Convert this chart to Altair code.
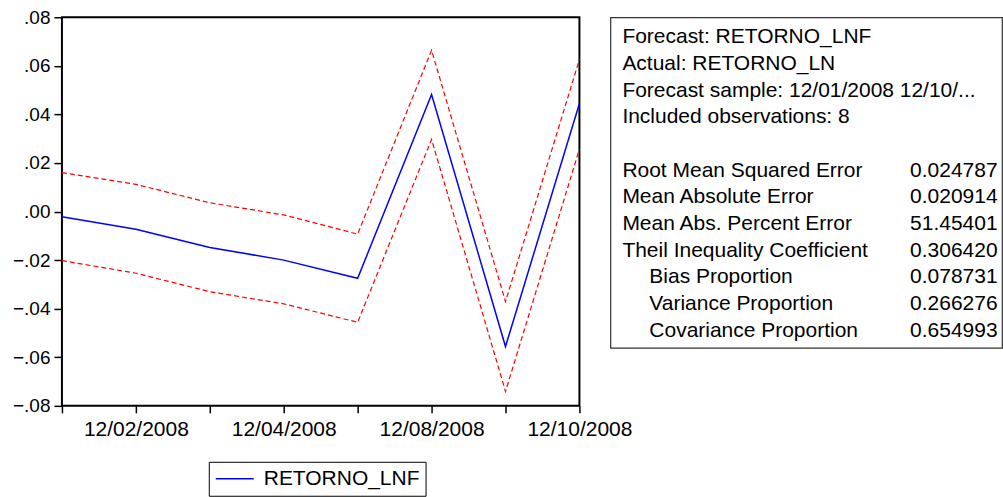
import altair as alt
import pandas as pd

# ---- data ----
dates = ["12/01/2008", "12/02/2008", "12/03/2008", "12/04/2008",
         "12/05/2008", "12/08/2008", "12/09/2008", "12/10/2008"]
forecast = [-0.0021, -0.0073, -0.0148, -0.0200, -0.0275, 0.0482, -0.0556, 0.0445]
upper = [0.0160, 0.0112, 0.0036, -0.0014, -0.0093, 0.0664, -0.0371, 0.0626]
lower = [-0.0202, -0.0254, -0.0330, -0.0380, -0.0456, 0.0297, -0.0741, 0.0257]
series_name = "RETORNO_LNF"
y_ticks = [-0.08, -0.06, -0.04, -0.02, 0.0, 0.02, 0.04, 0.06, 0.08]
x_labelled = ["12/02/2008", "12/04/2008", "12/08/2008", "12/10/2008"]

header_lines = ["Forecast: RETORNO_LNF", "Actual: RETORNO_LN",
                "Forecast sample: 12/01/2008 12/10/...", "Included observations: 8"]
stat_names = ["Root Mean Squared Error", "Mean Absolute Error",
              "Mean Abs. Percent Error", "Theil Inequality Coefficient",
              "Bias Proportion", "Variance Proportion", "Covariance Proportion"]
stat_levels = [0, 0, 0, 0, 1, 1, 1]
stat_values = ["0.024787", "0.020914", "51.45401", "0.306420",
               "0.078731", "0.266276", "0.654993"]

FONT = "Liberation Sans"

fc = pd.DataFrame({"date": dates, "value": forecast, "series": series_name})
band = pd.DataFrame({"date": dates * 2, "value": upper + lower,
                     "band": ["upper"] * len(dates) + ["lower"] * len(dates)})

label_cond = " || ".join(f"datum.value == '{d}'" for d in x_labelled)

x_enc = alt.X("date:O", sort=dates,
              scale=alt.Scale(type="point", padding=0),
              axis=alt.Axis(title=None, labelAngle=0, domain=False,
                            tickColor="black", tickSize=7, tickWidth=1.5,
                            labelFont=FONT, labelFontSize=21, labelColor="black",
                            labelPadding=6, labelExpr=f"({label_cond}) ? datum.label : ''"))
y_scale = alt.Scale(domain=[-0.08, 0.08], nice=False, zero=False)
y_axis = alt.Axis(title=None, values=y_ticks, domain=False, grid=False,
                  tickColor="black", tickSize=8, tickWidth=1.5,
                  labelFont=FONT, labelFontSize=19, labelColor="black",
                  labelPadding=4,
                  labelExpr="replace(format(datum.value, '.2f'), '0.', '.')")

bands = alt.Chart(band).mark_line(color="#ff0000", strokeWidth=1.2,
                                  strokeDash=[5, 3]).encode(
    x=x_enc,
    y=alt.Y("value:Q", scale=y_scale, axis=y_axis),
    detail="band:N",
)

line = alt.Chart(fc).mark_line(strokeWidth=1.5).encode(
    x=x_enc,
    y=alt.Y("value:Q", scale=y_scale, axis=y_axis),
    color=alt.Color("series:N",
                    scale=alt.Scale(domain=[series_name], range=["#0000ff"]),
                    legend=alt.Legend(title=None, orient="none",
                                      legendX=147, legendY=445,
                                      strokeColor="black", padding=6,
                                      symbolType="stroke", symbolSize=1444,
                                      symbolStrokeWidth=1.5, clipHeight=22,
                                      labelFont=FONT, labelFontSize=21,
                                      labelColor="black", labelOffset=9)),
)

main = alt.layer(bands, line).properties(
    width=518, height=389,
    view=alt.ViewBackground(stroke="black", strokeWidth=2),
)

# ---- statistics box ----
rows = []
for i, t in enumerate(header_lines):
    rows.append({"row": i, "text": t, "level": 0})
for j, (t, lv) in enumerate(zip(stat_names, stat_levels)):
    rows.append({"row": j + 5, "text": t, "level": lv})
names_df = pd.DataFrame(rows)
vals_df = pd.DataFrame({"row": [j + 5 for j in range(len(stat_values))],
                        "text": stat_values})

row_scale = alt.Scale(domain=[-0.75, 11.65], reverse=True, nice=False, zero=False)

names = alt.Chart(names_df).mark_text(align="left", baseline="middle",
                                      font=FONT, fontSize=21, color="black").encode(
    x=alt.X("level:Q", scale=alt.Scale(domain=[0, 1], range=[12, 39]), axis=None),
    y=alt.Y("row:Q", scale=row_scale, axis=None),
    text="text:N",
)
vals = alt.Chart(vals_df).mark_text(align="left", baseline="middle",
                                    font=FONT, fontSize=21, color="black").encode(
    x=alt.value(300),
    y=alt.Y("row:Q", scale=row_scale, axis=None),
    text="text:N",
)
stats = alt.layer(names, vals).properties(
    width=392, height=331,
    view=alt.ViewBackground(stroke="#333333", strokeWidth=1.2),
)

chart = alt.hconcat(main, stats, spacing=31, bounds="flush").properties(
    padding={"left": 11, "top": 7, "right": 0, "bottom": 0},
    background="white",
).configure_view(stroke="black")

chart.save("out.html", embed_options={"renderer": "svg", "actions": False})
